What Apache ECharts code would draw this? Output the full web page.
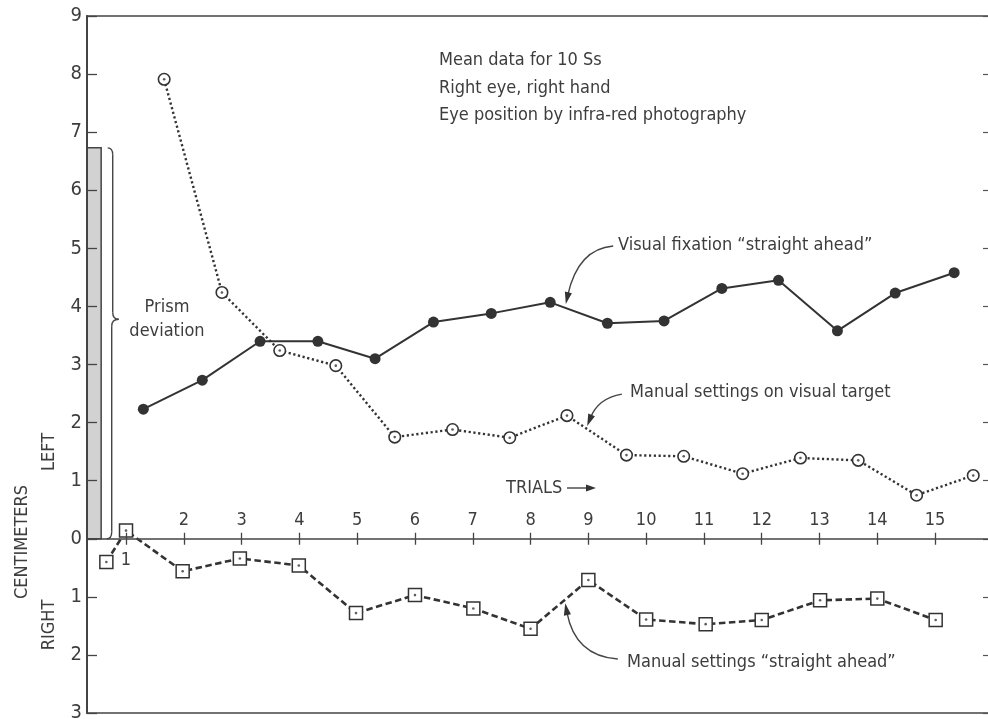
<!DOCTYPE html>
<html>
<head>
<meta charset="utf-8">
<script src="https://cdn.jsdelivr.net/npm/echarts@6/dist/echarts.min.js"></script>
<style>
  html, body { margin: 0; padding: 0; background: #fff; }
  #chart { width: 988px; height: 719px; }
</style>
</head>
<body>
<div id="chart"></div>
<script>
// trial ticks along the zero line
const trialTicks = [1, 2, 3, 4, 5, 6, 7, 8, 9, 10, 11, 12, 13, 14, 15];
const trialLabelsAbove = [2, 3, 4, 5, 6, 7, 8, 9, 10, 11, 12, 13, 14, 15];
const trialLabelsBelow = [1];

// Visual fixation "straight ahead" (filled circles)
const fixationX = [1.30, 2.32, 3.32, 4.32, 5.31, 6.32, 7.32, 8.34, 9.33, 10.31, 11.31, 12.29, 13.31, 14.31, 15.33];
const fixationY = [2.23, 2.73, 3.40, 3.40, 3.10, 3.73, 3.88, 4.07, 3.71, 3.75, 4.31, 4.45, 3.58, 4.23, 4.58];

// Manual settings on visual target (open circles)
const targetX = [1.66, 2.66, 3.66, 4.63, 5.65, 6.65, 7.64, 8.63, 9.66, 10.65, 11.67, 12.67, 13.67, 14.68, 15.66];
const targetY = [7.91, 4.24, 3.24, 2.98, 1.75, 1.88, 1.74, 2.12, 1.44, 1.42, 1.12, 1.39, 1.35, 0.75, 1.09];

// Manual settings "straight ahead" (squares), negative = right
const aheadX = [0.66, 1.00, 1.98, 2.97, 3.99, 4.98, 6.00, 7.01, 8.00, 9.00, 10.00, 11.03, 12.00, 13.01, 14.00, 15.01];
const aheadY = [-0.40, 0.14, -0.56, -0.34, -0.46, -1.28, -0.97, -1.20, -1.55, -0.71, -1.39, -1.47, -1.40, -1.06, -1.03, -1.40];

const prismDeviation = 6.73;

const FONT = '"Liberation Sans Narrow", "DejaVu Sans Condensed", "Liberation Sans", sans-serif';
const INK = '#333';
const TEXT = '#3d3d3d';
const xMin = 0.325, xMax = 15.95;
const yMin = -3, yMax = 9;

// grid box, the zero line sits inside it
const gridTop = 16, gridBottom = 6, chartH = 719;
const plotH = chartH - gridTop - gridBottom;
const zeroFromTop = plotH * yMax / (yMax - yMin);
const zeroFromBottom = plotH - zeroFromTop;

const zip = (xs, ys) => xs.map((x, i) => [x, ys[i]]);

const option = {
  animation: false,
  backgroundColor: '#fff',
  textStyle: { fontFamily: FONT },
  grid: {
    left: 87, right: -2, top: gridTop, bottom: gridBottom,
    outerBoundsMode: 'none', containLabel: false,
    show: true, borderColor: '#444', borderWidth: 1.5, backgroundColor: 'transparent'
  },
  xAxis: [
    {
      type: 'value', position: 'top', offset: -zeroFromTop, min: xMin, max: xMax, z: 4,
      axisLine: { onZero: false, lineStyle: { color: '#444', width: 1.5 } },
      axisTick: { show: true, length: 6, customValues: trialTicks, lineStyle: { color: '#444', width: 1.3 } },
      axisLabel: { customValues: trialLabelsAbove, margin: 9, fontSize: 18, color: TEXT, fontFamily: FONT },
      splitLine: { show: false }
    },
    {
      type: 'value', position: 'bottom', offset: -zeroFromBottom, min: xMin, max: xMax, z: 4,
      axisLine: { show: false, onZero: false },
      axisTick: { show: true, length: 6, customValues: trialTicks, lineStyle: { color: '#444', width: 1.3 } },
      axisLabel: { customValues: trialLabelsBelow, margin: 13, fontSize: 18, color: TEXT, fontFamily: FONT },
      splitLine: { show: false }
    }
  ],
  yAxis: [
    {
      type: 'value', position: 'left', min: yMin, max: yMax, interval: 1, z: 4,
      axisLine: { show: true, onZero: false, lineStyle: { color: '#444', width: 2 } },
      axisTick: { show: true, inside: true, length: 10, lineStyle: { color: '#444', width: 1.3 } },
      axisLabel: { margin: 5, fontSize: 20, color: TEXT, fontFamily: FONT, formatter: v => String(Math.abs(v)) },
      splitLine: { show: false }
    },
    {
      type: 'value', position: 'right', min: yMin, max: yMax, interval: 1,
      axisLine: { show: false, onZero: false },
      axisTick: { show: true, inside: true, length: 7, lineStyle: { color: '#555', width: 1.2 } },
      axisLabel: { show: false },
      splitLine: { show: false }
    }
  ],
  series: [
    {
      name: 'Visual fixation', type: 'line', data: zip(fixationX, fixationY),
      symbol: 'circle', symbolSize: 11,
      itemStyle: { color: INK },
      lineStyle: { color: INK, width: 2 },
      z: 4,
      markArea: {
        silent: true,
        itemStyle: { color: '#d2d2d2', borderColor: '#444', borderWidth: 1.5 },
        data: [[{ coord: [xMin, 0] }, { coord: [xMin + 0.245, prismDeviation] }]]
      }
    },
    {
      name: 'Manual on target', type: 'line', data: zip(targetX, targetY),
      symbol: 'circle', symbolSize: 11.5,
      itemStyle: { color: '#fff', borderColor: INK, borderWidth: 1.6 },
      lineStyle: { color: INK, width: 2.4, type: [2.2, 2.6] },
      z: 3
    },
    {
      name: 'target dots', type: 'scatter', data: zip(targetX, targetY),
      symbol: 'circle', symbolSize: 2.6, itemStyle: { color: INK }, z: 5, silent: true
    },
    {
      name: 'Manual straight ahead', type: 'line', data: zip(aheadX, aheadY),
      symbol: 'rect', symbolSize: 13,
      itemStyle: { color: '#fff', borderColor: INK, borderWidth: 1.5 },
      lineStyle: { color: INK, width: 2.6, type: [6.5, 3.5] },
      z: 3
    },
    {
      name: 'ahead dots', type: 'scatter', data: zip(aheadX, aheadY),
      symbol: 'circle', symbolSize: 2.6, itemStyle: { color: INK }, z: 5, silent: true
    }
  ]
};

const chart = echarts.init(document.getElementById('chart'));
chart.setOption(option);

const px = (x, y) => chart.convertToPixel({ seriesIndex: 0 }, [x, y]);

function text(str, x, y, opts) {
  return {
    type: 'text', x: x, y: y, z: 20,
    style: Object.assign({ text: str, fontSize: 18, fontFamily: FONT, fill: TEXT, textAlign: 'left', textVerticalAlign: 'middle' }, opts || {})
  };
}

function rotText(str, x, y) {
  return {
    type: 'text', x: x, y: y, rotation: Math.PI / 2, z: 20,
    style: { text: str, fontSize: 18, fontFamily: FONT, fill: TEXT, textAlign: 'center', textVerticalAlign: 'middle' }
  };
}

function curve(a, c, b) {
  return { type: 'bezierCurve', z: 20, shape: { x1: a[0], y1: a[1], cpx1: c[0], cpy1: c[1], x2: b[0], y2: b[1] },
    style: { stroke: '#444', lineWidth: 1.4, fill: null } };
}

function seg(a, b) {
  return { type: 'line', z: 20, shape: { x1: a[0], y1: a[1], x2: b[0], y2: b[1] }, style: { stroke: '#444', lineWidth: 1.4 } };
}

// curved annotation arrow, anchors given in data units
function curvedArrow(start, ctrl, tip) {
  const s = px(start[0], start[1]), c = px(ctrl[0], ctrl[1]), t = px(tip[0], tip[1]);
  const ang = Math.atan2(t[1] - c[1], t[0] - c[0]);
  const L = 12, W = 3.6;
  const bx = t[0] - L * Math.cos(ang), by = t[1] - L * Math.sin(ang);
  const nx = -Math.sin(ang), ny = Math.cos(ang);
  return [
    curve(s, c, [bx + 3 * Math.cos(ang), by + 3 * Math.sin(ang)]),
    { type: 'polygon', z: 20, shape: { points: [t, [bx + W * nx, by + W * ny], [bx - W * nx, by - W * ny]] }, style: { fill: '#333' } }
  ];
}

// brace beside the prism deviation bar
const bTop = px(0.77, prismDeviation)[1], bTip = px(0.77, 3.78)[1], bBot = px(0.77, 0)[1];
const bx0 = px(0.77, 0)[0];
const brace = [
  curve([bx0 - 5, bTop], [bx0, bTop], [bx0, bTop + 7]),
  seg([bx0, bTop + 7], [bx0, bTip - 7]),
  curve([bx0, bTip - 7], [bx0, bTip], [bx0 + 6, bTip]),
  curve([bx0 + 6, bTip], [bx0 - 1, bTip], [bx0 - 1, bTip + 7]),
  seg([bx0 - 1, bTip + 7], [bx0 - 1, bBot - 7]),
  curve([bx0 - 1, bBot - 7], [bx0 - 1, bBot], [bx0 - 6, bBot])
];

const trialsArrowY = 488;

chart.setOption({
  graphic: [
    text('Mean data for 10 Ss', 439, 60),
    text('Right eye, right hand', 439, 88),
    text('Eye position by infra-red photography', 439, 115),
    text('Visual fixation \u201cstraight ahead\u201d', 618, 245),
    text('Manual settings on visual target', 630, 392),
    text('Manual settings \u201cstraight ahead\u201d', 627, 662),
    text('TRIALS', 506, trialsArrowY),
    text('Prism', 167, 307, { textAlign: 'center' }),
    text('deviation', 167, 331, { textAlign: 'center' }),
    rotText('LEFT', 49, 452),
    rotText('RIGHT', 49, 625),
    rotText('CENTIMETERS', 22, 542),
    seg([567, trialsArrowY], [590, trialsArrowY]),
    { type: 'polygon', z: 20, shape: { points: [[596, trialsArrowY], [586, trialsArrowY - 3.5], [586, trialsArrowY + 3.5]] }, style: { fill: '#333' } }
  ]
    .concat(brace)
    .concat(curvedArrow([9.43, 5.04], [8.82, 4.99], [8.61, 4.04]))
    .concat(curvedArrow([9.58, 2.49], [9.17, 2.42], [8.98, 1.94]))
    .concat(curvedArrow([9.51, -2.07], [8.77, -2.02], [8.60, -1.11]))
});

window.addEventListener('resize', function () {
  chart.resize();
});
</script>
</body>
</html>
